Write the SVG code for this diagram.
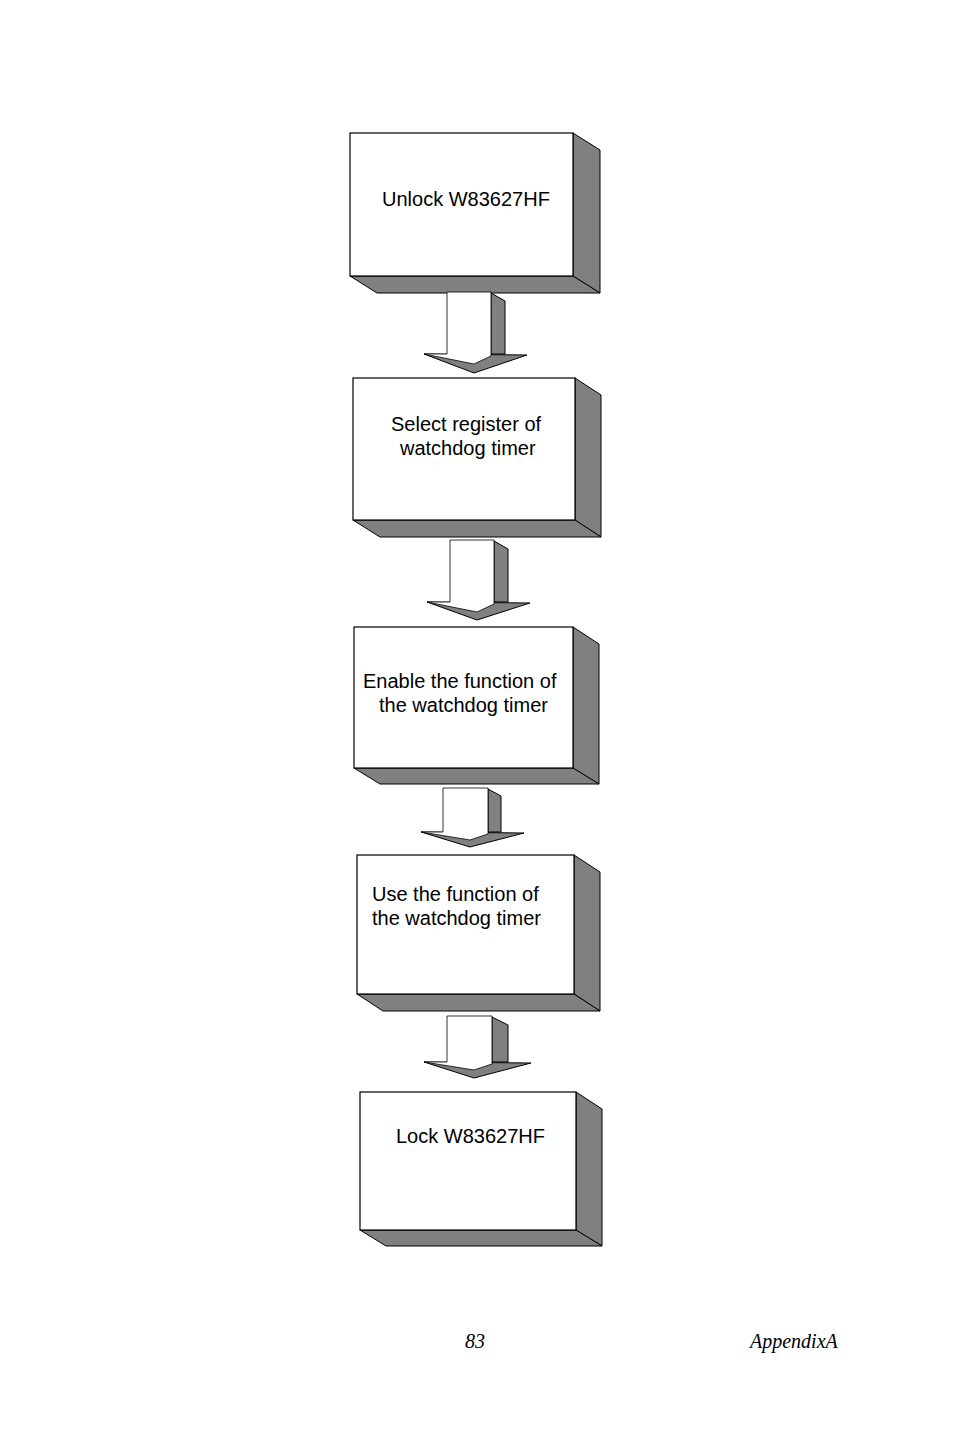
<svg xmlns="http://www.w3.org/2000/svg" width="954" height="1430" viewBox="0 0 954 1430">
<style>
.f{fill:#fff;stroke:#000;stroke-width:1.2}
.g{fill:#808080;stroke:#000;stroke-width:1}
.t{font-family:"Liberation Sans",Arial,sans-serif;font-size:20px;fill:#000}
.p{font-family:"Liberation Serif","Times New Roman",serif;font-style:italic;font-size:20px;fill:#000}
</style>
<rect width="954" height="1430" fill="#fff"/>
<g id="n1">
<polygon class="g" points="573,133 600,150 600,293 573,276"/>
<polygon class="g" points="350,276 377,293 600,293 573,276"/>
<rect class="f" x="350" y="133" width="223" height="143"/>
<text class="t" x="382" y="206">Unlock W83627HF</text>
</g>
<g id="n2">
<polygon class="g" points="575,378 601,395 601,537 575,520"/>
<polygon class="g" points="353,520 380,537 601,537 575,520"/>
<rect class="f" x="353" y="378" width="222" height="142"/>
<text class="t" x="391" y="431">Select register of</text>
<text class="t" x="400" y="455">watchdog timer</text>
</g>
<g id="n3">
<polygon class="g" points="573,627 599,644 599,784 573,768"/>
<polygon class="g" points="354,768 380,784 599,784 573,768"/>
<rect class="f" x="354" y="627" width="219" height="141"/>
<text class="t" x="363" y="688">Enable the function of</text>
<text class="t" x="379" y="712">the watchdog timer</text>
</g>
<g id="n4">
<polygon class="g" points="574,855 600,872 600,1011 574,994"/>
<polygon class="g" points="357,994 383,1011 600,1011 574,994"/>
<rect class="f" x="357" y="855" width="217" height="139"/>
<text class="t" x="372" y="901">Use the function of</text>
<text class="t" x="372" y="925">the watchdog timer</text>
</g>
<g id="n5">
<polygon class="g" points="576,1092 602,1109 602,1246 576,1230"/>
<polygon class="g" points="360,1230 386,1246 602,1246 576,1230"/>
<rect class="f" x="360" y="1092" width="216" height="138"/>
<text class="t" x="396" y="1143">Lock W83627HF</text>
</g>
<g id="connectors">
<g id="a1">
<polygon class="g" points="491,293 505,301 505,354 491,354"/>
<polygon class="g" points="424,354 527,355 474,373"/>
<polygon fill="#fff" stroke="#000" stroke-width="0.8" points="424,354 447,354 447,292 491,292 491,356 474,364"/>
</g>
<g id="a2">
<polygon class="g" points="494,541 508,549 508,602 494,602"/>
<polygon class="g" points="427,602 530,603 477,620"/>
<polygon fill="#fff" stroke="#000" stroke-width="0.8" points="427,602 450,602 450,540 494,540 494,604 477,612"/>
</g>
<g id="a3">
<polygon class="g" points="488,789 501,796 501,832 488,832"/>
<polygon class="g" points="421,832 524,833 470,847"/>
<polygon fill="#fff" stroke="#000" stroke-width="0.8" points="421,832 443,832 443,788 488,788 488,834 470,840"/>
</g>
<g id="a4">
<polygon class="g" points="492,1017 508,1025 508,1062 492,1062"/>
<polygon class="g" points="424,1062 531,1063 474,1078"/>
<polygon fill="#fff" stroke="#000" stroke-width="0.8" points="424,1062 447,1062 447,1016 492,1016 492,1064 474,1070"/>
</g>
</g>
<text class="p" x="465" y="1348">83</text>
<text class="p" x="750" y="1348">AppendixA</text>
</svg>
